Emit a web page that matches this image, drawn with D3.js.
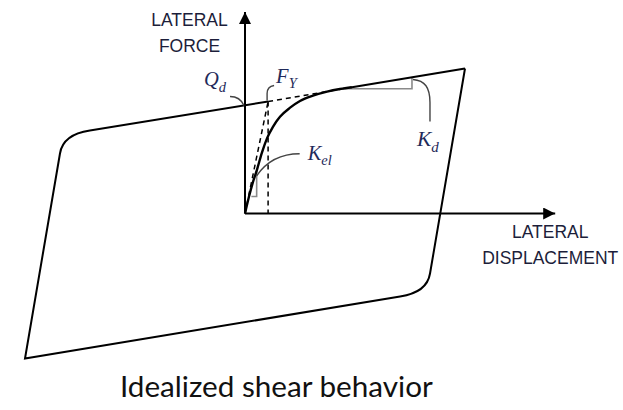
<!DOCTYPE html>
<html>
<head>
<meta charset="utf-8">
<script src="https://cdn.jsdelivr.net/npm/d3@7"></script>
<style>
  html, body { margin: 0; padding: 0; background: #fff; }
  svg { display: block; }
</style>
</head>
<body>
<svg id="chart" width="623" height="410"></svg>
<script>
// Idealized bilinear hysteresis of an isolator: lateral displacement d vs lateral force F
// (arbitrary units).

// Model parameters
const Qd = 7.45;     // characteristic strength (force intercept at d = 0)
const Kd = 0.255;    // post-yield stiffness
const Yd = 1.05;     // yield displacement Y
const FY = 7.72;     // yield force F_Y

// Axis extents (arrow tips)
const xAxisMax = 14.1;
const yAxisMax = 13.9;

// Hysteresis loop, traced from the peak positive displacement:
// unloading branch, rounded knee, negative post-yield branch, reloading, knee, back to F_Y.
const loopSegments = [
  ["M", 10, 10],
  ["L", 8.41, -4.14],
  ["Q", 8.27, -5.45, 7.05, -5.72],
  ["L", -10, -10],
  ["L", -8.41, 4.14],
  ["Q", -8.27, 5.45, -7.05, 5.72],
  ["L", Yd, FY]
];

// Initial (virgin) loading curve from the origin into the post-yield branch
const loadingCurve = [
  [0, 0], [0.18, 1.15], [0.36, 2.16], [0.55, 3.05], [0.77, 4.2], [1.0, 5.18],
  [1.27, 5.98], [1.59, 6.67], [2.05, 7.3], [2.5, 7.76], [3.09, 8.13],
  [3.73, 8.41], [4.32, 8.59], [4.86, 8.71]
];
// Straight post-yield branch up to the peak
const postYield = [[4.86, 8.71], [10, 10]];

// Dashed bilinear idealization
const elasticLine = [[0, 0], [Yd, FY]];
const yieldDrop = [[Yd, FY], [Yd, 0]];
const postYieldDashed = [[Yd, FY], [4.86, 8.71]];

// Slope triangles for K_el and K_d
const kelTriangle = [[0.29, 1.17], [0.53, 1.17], [0.53, 2.97]];
const kdTriangle = [[4.32, 8.6], [7.59, 8.6], [7.59, 9.38]];

// Scales
const x = d3.scaleLinear().domain([0, 10]).range([245, 465]);
const y = d3.scaleLinear().domain([0, 10]).range([213.5, 68.5]);

const svg = d3.select("#chart");
const line = d3.line().x(d => x(d[0])).y(d => y(d[1]));

// Arrow markers
const defs = svg.append("defs");
defs.append("marker")
  .attr("id", "arrow")
  .attr("viewBox", "0 0 12 12")
  .attr("refX", 12).attr("refY", 6)
  .attr("markerWidth", 12).attr("markerHeight", 12)
  .attr("markerUnits", "userSpaceOnUse")
  .attr("orient", "auto")
  .append("path")
  .attr("d", "M0,0 L12,6 L0,12 Z")
  .attr("fill", "#000");

// Axes
svg.append("line")
  .attr("x1", x(0)).attr("y1", y(0))
  .attr("x2", x(xAxisMax)).attr("y2", y(0))
  .attr("stroke", "#000").attr("stroke-width", 2)
  .attr("marker-end", "url(#arrow)");
svg.append("line")
  .attr("x1", x(0)).attr("y1", y(0))
  .attr("x2", x(0)).attr("y2", y(yAxisMax))
  .attr("stroke", "#000").attr("stroke-width", 2)
  .attr("marker-end", "url(#arrow)");

// Hysteresis loop
const loopPath = d3.path();
loopSegments.forEach(s => {
  if (s[0] === "M") loopPath.moveTo(x(s[1]), y(s[2]));
  else if (s[0] === "L") loopPath.lineTo(x(s[1]), y(s[2]));
  else if (s[0] === "Q") loopPath.quadraticCurveTo(x(s[1]), y(s[2]), x(s[3]), y(s[4]));
});
svg.append("path")
  .attr("d", loopPath.toString())
  .attr("fill", "none").attr("stroke", "#000")
  .attr("stroke-width", 2).attr("stroke-linejoin", "miter");

// Dashed idealization
[elasticLine, yieldDrop, postYieldDashed].forEach(seg => {
  svg.append("path")
    .attr("d", line(seg))
    .attr("fill", "none").attr("stroke", "#000")
    .attr("stroke-width", 1.5).attr("stroke-dasharray", "5,4");
});

// Slope triangles
[kelTriangle, kdTriangle].forEach(tri => {
  svg.append("path")
    .attr("d", line(tri))
    .attr("fill", "none").attr("stroke", "#8a8a8a").attr("stroke-width", 1.6);
});

// Initial loading curve and post-yield branch
svg.append("path")
  .attr("d", d3.line().x(d => x(d[0])).y(d => y(d[1])).curve(d3.curveMonotoneX)(loadingCurve))
  .attr("fill", "none").attr("stroke", "#000").attr("stroke-width", 2.4);
svg.append("path")
  .attr("d", line(postYield))
  .attr("fill", "none").attr("stroke", "#000").attr("stroke-width", 2);

// Axis titles
const sansColor = "#1c1e3a";
function sansLabel(lines, cx, baseline) {
  const t = svg.append("text")
    .attr("font-family", "'Liberation Sans', Arial, sans-serif")
    .attr("font-size", 17.5).attr("fill", sansColor)
    .attr("text-anchor", "middle");
  lines.forEach((s, i) => {
    t.append("tspan").attr("x", cx).attr("y", baseline + i * 25.5).text(s);
  });
}
sansLabel(["LATERAL", "FORCE"], x(0) - 55.5, 26);
sansLabel(["LATERAL", "DISPLACEMENT"], x(xAxisMax) - 5, 238);

// Math annotations (italic serif with subscripts)
const mathColor = "#1f2a5a";
function mathLabel(px, py, main, sub, size, subSize, subDy) {
  const t = svg.append("text")
    .attr("x", px).attr("y", py)
    .attr("font-family", "'Liberation Serif', 'Times New Roman', serif")
    .attr("font-style", "italic")
    .attr("font-size", size).attr("fill", mathColor);
  t.append("tspan").text(main);
  t.append("tspan").attr("font-size", subSize).attr("dy", subDy).text(sub);
}
function leader(d) {
  svg.append("path").attr("d", d)
    .attr("fill", "none").attr("stroke", "#444").attr("stroke-width", 1.4);
}

// Q_d at the force intercept
const qx = x(0), qy = y(Qd);
mathLabel(qx - 41, qy - 19, "Q", "d", 20.5, 14.5, 6);
leader(`M${qx - 15},${qy - 9} Q${qx - 5},${qy - 9} ${qx - 1},${qy}`);

// F_Y at the yield point
const fx = x(Yd), fy = y(FY);
mathLabel(fx + 8, fy - 19, "F", "Y", 20.5, 14.5, 5);
leader(`M${fx + 6},${fy - 16} Q${fx - 1},${fy - 15} ${fx - 1},${fy - 8} L${fx - 1},${fy - 1}`);

// K_el on the elastic branch
const kx = x(0.53), ky = y(2.6);
mathLabel(kx + 51, ky - 16, "K", "el", 20.5, 14.5, 5);
leader(`M${kx + 43},${ky - 22} C${kx + 25},${ky - 22} ${kx + 11},${ky - 16} ${kx},${ky}`);

// K_d on the post-yield branch
const dx = x(7.59), dy = y(9.24);
mathLabel(dx + 5, dy + 66, "K", "d", 21.5, 15, 6);
leader(`M${dx + 1},${dy} C${dx + 13},${dy + 1} ${dx + 18},${dy + 8} ${dx + 18},${dy + 23} L${dx + 18},${dy + 42}`);

// Caption
const cap = svg.append("text")
  .attr("x", 120).attr("y", 397)
  .attr("font-family", "Lato, 'Open Sans', sans-serif")
  .attr("font-size", 28).attr("fill", "#111")
  .text("Idealized shear behavior");
const w = cap.node().getComputedTextLength();
cap.attr("font-size", 28 * 313 / w);
</script>
</body>
</html>
